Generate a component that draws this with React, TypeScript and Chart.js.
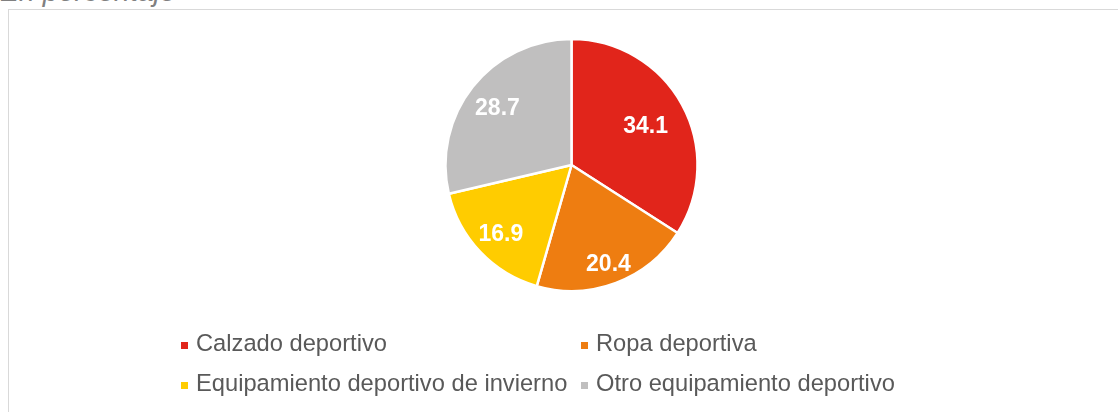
import React, { useEffect, useRef } from "react";
import { Chart, registerables } from "chart.js";

Chart.register(...registerables);

const categories = [
  "Calzado deportivo",
  "Ropa deportiva",
  "Equipamiento deportivo de invierno",
  "Otro equipamiento deportivo",
];
const values = [34.1, 20.4, 16.9, 28.7];
const colors = ["#E1251B", "#EE7D11", "#FFCC00", "#C0BFBF"];
const labelRadiusFactors = [0.67, 0.83, 0.775, 0.75];
const subtitle = "En porcentaje";

const FONT = "'Liberation Sans', Arial, sans-serif";

const labelPlugin = {
  id: "sliceLabels",
  afterDatasetsDraw(chart: any) {
    const ctx = chart.ctx;
    const meta = chart.getDatasetMeta(0);
    ctx.save();
    ctx.fillStyle = "#FFFFFF";
    ctx.font = `bold 23px ${FONT}`;
    ctx.textAlign = "center";
    ctx.textBaseline = "alphabetic";
    meta.data.forEach((arc: any, i: number) => {
      const p = arc.getProps(["x", "y", "startAngle", "endAngle", "outerRadius"], true);
      const mid = (p.startAngle + p.endAngle) / 2;
      const r = p.outerRadius * labelRadiusFactors[i];
      const x = p.x + Math.cos(mid) * r;
      const y = p.y + Math.sin(mid) * r;
      ctx.fillText(values[i].toFixed(1), x, y + 8.3);
    });
    ctx.restore();
  },
};

export default function App() {
  const canvasRef = useRef<HTMLCanvasElement | null>(null);

  useEffect(() => {
    if (!canvasRef.current) return;
    const chart = new Chart(canvasRef.current, {
      type: "pie",
      data: {
        labels: categories,
        datasets: [
          {
            data: values,
            backgroundColor: colors,
            borderColor: "#FFFFFF",
            borderWidth: 2.5,
          },
        ],
      },
      options: {
        animation: false,
        responsive: false,
        maintainAspectRatio: false,
        radius: 126,
        layout: { padding: { left: 25, right: 0, top: 0, bottom: 82 } },
        plugins: {
          legend: { display: false },
          tooltip: { enabled: false },
          title: { display: false },
        },
      } as any,
      plugins: [labelPlugin],
    });
    return () => chart.destroy();
  }, []);

  const legendPos = [
    { left: 181, top: 342, textLeft: 196, textTop: 331.9 },
    { left: 581, top: 342, textLeft: 596, textTop: 331.9 },
    { left: 181, top: 382, textLeft: 196, textTop: 371.9 },
    { left: 581, top: 382, textLeft: 596, textTop: 371.9 },
  ];

  return (
    <div
      style={{
        position: "absolute",
        left: 0,
        top: 0,
        width: 1118,
        height: 412,
        overflow: "hidden",
        background: "#FFFFFF",
        fontFamily: FONT,
      }}
    >
      <div
        style={{
          position: "absolute",
          left: 8,
          top: 9,
          width: 1120,
          height: 420,
          border: "1px solid #D9D9D9",
          boxSizing: "border-box",
        }}
      />
      <div
        style={{
          position: "absolute",
          left: 0,
          top: -23,
          fontSize: 28.5,
          lineHeight: "28.5px",
          fontStyle: "italic",
          color: "#808080",
          whiteSpace: "nowrap",
        }}
      >
        {subtitle}
      </div>
      <canvas
        ref={canvasRef}
        width={1118}
        height={412}
        style={{ position: "absolute", left: 0, top: 0, width: 1118, height: 412 }}
      />
      {categories.map((c, i) => (
        <React.Fragment key={c}>
          <div
            style={{
              position: "absolute",
              left: legendPos[i].left,
              top: legendPos[i].top,
              width: 7,
              height: 7,
              background: colors[i],
            }}
          />
          <div
            style={{
              position: "absolute",
              left: legendPos[i].textLeft,
              top: legendPos[i].textTop,
              fontSize: 23.7,
              lineHeight: "23.7px",
              color: "#595959",
              whiteSpace: "nowrap",
            }}
          >
            {c}
          </div>
        </React.Fragment>
      ))}
    </div>
  );
}
